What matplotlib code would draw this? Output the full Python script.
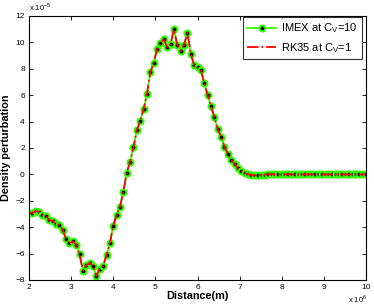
import numpy as np
import matplotlib
matplotlib.use("Agg")
import matplotlib.pyplot as plt

plt.rcParams['font.family'] = ['Liberation Sans', 'DejaVu Sans']
plt.rcParams['mathtext.fontset'] = 'custom'
plt.rcParams['mathtext.rm'] = 'Liberation Sans'

# Distance in units of 1e6 m (uniform sampling grid, 101 samples from 2 to 10)
distance = np.linspace(2.0, 10.0, 101)

# Density perturbation in units of 1e-5
imex = [
    -2.95, -2.90, -2.77, -2.85, -3.05, -3.15, -3.45, -3.53, -3.76, -3.83,
    -4.20, -4.92, -5.22, -5.07, -5.33, -6.05, -7.30, -6.89, -6.69, -6.94,
    -7.70, -7.14, -6.92, -6.13, -5.22, -3.90, -3.05, -2.45, -1.31, 0.13,
    0.96, 2.05, 3.36, 4.05, 4.93, 6.09, 7.73, 8.46, 9.48, 9.93,
    10.23, 9.63, 9.88, 10.99, 9.80, 9.37, 9.80, 10.75, 9.15, 8.26,
    8.10, 7.91, 6.90, 6.02, 5.15, 4.33, 3.42, 2.86, 2.10, 1.55,
    1.09, 0.79, 0.46, 0.26, 0.10, 0.02, -0.05, -0.08, -0.05, -0.03,
    -0.01, 0.00, 0.01, 0.00, 0.00, 0.00, 0.00, 0.00, 0.00, 0.00,
    0.00, 0.00, 0.00, 0.00, 0.00, 0.00, 0.00, 0.00, 0.00, 0.00,
    0.00, 0.00, 0.00, 0.00, 0.00, 0.00, 0.00, 0.00, 0.00, 0.00,
    0.00,
]
rk35 = list(imex)

x_ticks = [2, 3, 4, 5, 6, 7, 8, 9, 10]
y_ticks = [-8, -6, -4, -2, 0, 2, 4, 6, 8, 10, 12]

labels = ['IMEX at C$_\\mathregular{V}$=10', 'RK35 at C$_\\mathregular{V}$=1']

fig = plt.figure(figsize=(3.74, 3.05), dpi=100)
ax = fig.add_axes([29/374, 1-280/305, (366-29)/374, (280-16)/305])

green = '#33ff00'
ax.plot(distance, imex, '-', color=green, lw=1.3, marker='o', ms=4.3,
        mfc='black', mec=green, mew=1.5, label=labels[0])
ax.plot(distance, rk35, '-.', color='red', lw=1.3, label=labels[1])

ax.set_xlim(2, 10)
ax.set_ylim(-8, 12)
ax.set_xticks(x_ticks)
ax.set_yticks(y_ticks)
ax.tick_params(direction='in', length=3, width=0.6, labelsize=6,
               top=True, right=True, pad=3)
for s in ax.spines.values():
    s.set_linewidth(0.8)

ax.set_xlabel('Distance(m)', fontsize=7.8, fontweight='bold')
ax.set_ylabel('Density perturbation', fontsize=7.8, fontweight='bold')
ax.xaxis.set_label_coords(0.5, -0.042)
ax.yaxis.set_label_coords(-0.052, 0.5)

ax.text(0.0, 1.012, 'x 10$^{-5}$', transform=ax.transAxes, fontsize=5.5,
        ha='left', va='bottom')
ax.text(0.947, -0.085, 'x 10$^{6}$', transform=ax.transAxes, fontsize=5.5,
        ha='left', va='baseline')

leg = ax.legend(loc='upper right', bbox_to_anchor=(0.988, 0.996),
                borderaxespad=0, fontsize=8, frameon=True, fancybox=False,
                edgecolor='black', handlelength=2.6, handletextpad=0.4,
                borderpad=0.4, labelspacing=0.5)
leg.get_frame().set_linewidth(0.8)

fig.savefig('out.png', dpi=100)
